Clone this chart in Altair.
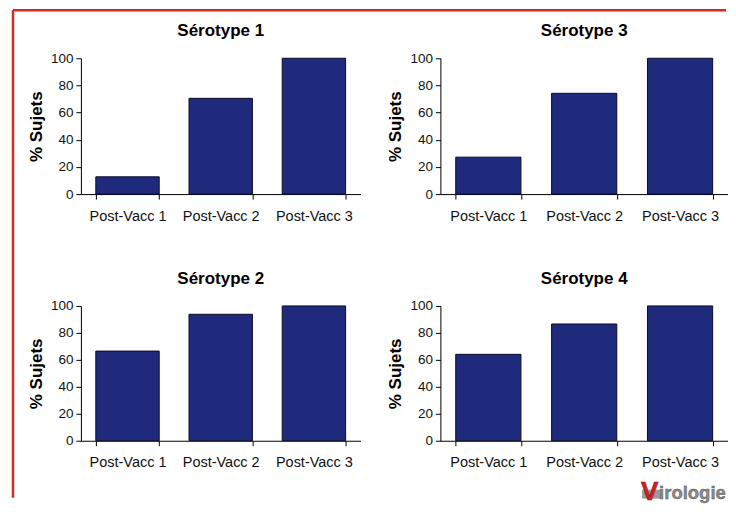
import altair as alt
import pandas as pd

categories = ["Post-Vacc 1", "Post-Vacc 2", "Post-Vacc 3"]
titles = ["Sérotype 1", "Sérotype 3", "Sérotype 2", "Sérotype 4"]
s1 = [12.7, 70.5, 100]
s3 = [27.2, 74.2, 100]
s2 = [66.5, 93.8, 100]
s4 = [64.1, 86.6, 100]
y_ticks = [0, 20, 40, 60, 80, 100]

FONT = "Liberation Sans"
BAR = "#1f2a7c"
RED = "#d42a22"
one = pd.DataFrame({"k": [0]})


def bars(values, w, h):
    df = pd.DataFrame({"cat": categories, "val": values})
    return (
        alt.Chart(df)
        .mark_bar(color=BAR, stroke="#0a0a2a", strokeWidth=1)
        .encode(
            x=alt.X("cat:N", sort=categories, title=None,
                    scale=alt.Scale(paddingInner=0.32, paddingOuter=0.16),
                    axis=alt.Axis(labelAngle=0, tickBand="extent", tickSize=5, labelPadding=10,
                                  labelFontSize=14.5)),
            y=alt.Y("val:Q", title="% Sujets",
                    scale=alt.Scale(domain=[0, 100], nice=False),
                    axis=alt.Axis(values=y_ticks, tickSize=5, grid=False, titlePadding=5,
                                  labelPadding=3, labelFontSize=13.5)),
        )
        .properties(width=w, height=h)
    )


def title_mark(text, w):
    return alt.Chart(pd.DataFrame({"t": [text]})).mark_text(
        font=FONT, fontSize=17, fontWeight="bold", color="black",
        align="center", baseline="alphabetic").encode(
        text="t:N", x=alt.value(w / 2), y=alt.value(-22))


left_line = alt.Chart(one).mark_rule(color=RED, strokeWidth=2.5).encode(
    x=alt.value(-68), y=alt.value(-48), y2=alt.value(440))
top_line = alt.Chart(one).mark_rule(color=RED, strokeWidth=2.5).encode(
    x=alt.value(-68), x2=alt.value(646), y=alt.value(-48))

logo_bar = alt.Chart(one).mark_rect(color="#9a9a9a").encode(
    x=alt.value(202), x2=alt.value(222), y=alt.value(184), y2=alt.value(193))
logo_v = alt.Chart(one).mark_text(text="V", font=FONT, fontSize=26, fontWeight="bold", color="#d0202a",
                                  stroke="#8a1010", strokeWidth=0.6, align="left", baseline="alphabetic").encode(
    x=alt.value(201), y=alt.value(194))
logo_t = alt.Chart(one).mark_text(text="irologie", font=FONT, fontSize=18.5, fontWeight="bold", color="#8a8a8a",
                                  stroke="#555555", strokeWidth=0.4, align="left", baseline="alphabetic").encode(
    x=alt.value(219), y=alt.value(193))

p1 = alt.layer(bars(s1, 280, 136), title_mark(titles[0], 280), left_line, top_line)
p3 = alt.layer(bars(s3, 288, 136), title_mark(titles[1], 288))
p2 = alt.layer(bars(s2, 280, 135), title_mark(titles[2], 280))
p4 = alt.layer(bars(s4, 288, 135), title_mark(titles[3], 288), logo_bar, logo_v, logo_t)

chart = (
    alt.concat(p1, p3, p2, p4, columns=2, spacing={"row": 112, "column": 80}, bounds="flush")
    .properties(padding={"left": 3, "top": 0, "right": 0, "bottom": 0}, background="white")
    .configure_view(stroke=None)
    .configure_axis(
        labelFont=FONT, labelColor="#111", titleFont=FONT,
        titleFontSize=17, titleFontWeight="bold", titleColor="black",
        domainColor="black", tickColor="black", domainWidth=1,
    )
)

chart.save("out.html", embed_options={"renderer": "svg", "actions": False})
